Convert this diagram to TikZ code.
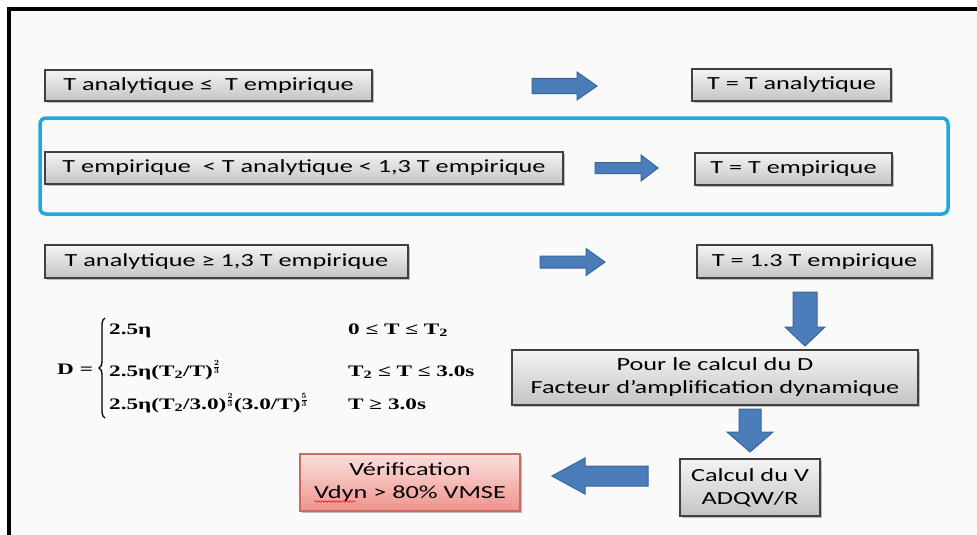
\documentclass[tikz,border=0pt]{standalone}
\usepackage{fontspec}
\setmainfont{Carlito}[FakeStretch=1.42]
\newfontfamily\tnr{Liberation Serif}[FakeStretch=1.45]
\usetikzlibrary{calc,shadows,decorations.pathmorphing,decorations.pathreplacing}
\definecolor{boxedge}{HTML}{404040}
\definecolor{boxtop}{HTML}{F4F4F4}
\definecolor{boxbot}{HTML}{C4C4C4}
\definecolor{arrowblue}{HTML}{4A7DBA}
\definecolor{arrowedge}{HTML}{3A659A}
\definecolor{framecyan}{HTML}{1FA8E0}
\definecolor{pinktop}{HTML}{FBE0DD}
\definecolor{pinkbot}{HTML}{F0938C}
\definecolor{pinkedge}{HTML}{C86A66}
\definecolor{bgcol}{HTML}{FAFAFA}
\tikzset{
  graybox/.style={draw=boxedge, line width=1.2pt, top color=boxtop, bottom color=boxbot,
    inner sep=0pt, font=\fontsize{18.5}{23}\selectfont, align=center,
    drop shadow={shadow xshift=1.5pt, shadow yshift=-1.5pt, opacity=0.25, fill=black}},
  pinkbox/.style={graybox, draw=pinkedge, top color=pinktop, bottom color=pinkbot},
  barrow/.style={fill=arrowblue, draw=arrowedge, line width=1pt, line join=miter},
  ftext/.style={font=\tnr\bfseries\boldmath\fontsize{16}{19}\selectfont, inner sep=0pt, anchor=base west},
  hlframe/.style={draw=framecyan, line width=3.5pt, rounded corners=6pt, inner sep=0pt},
  bracestyle/.style={draw=black, line width=1.3pt, decorate, decoration={brace, amplitude=6pt}},
  spellwave/.style={draw=red, line width=0.6pt, decorate, decoration={snake, amplitude=0.8pt, segment length=3.5pt}},
}
% #1 tail, #2 tip, #3 shaft half width, #4 head half width, #5 head length
\newcommand\blockarrow[5]{%
  \coordinate (bahb) at ($(#2)!#5!(#1)$);
  \filldraw[barrow] ($(#1)!#3!90:(#2)$) -- ($(bahb)!#3!90:(#2)$) -- ($(bahb)!#4!90:(#2)$)
    -- (#2) -- ($(bahb)!#4!-90:(#2)$) -- ($(bahb)!#3!-90:(#2)$) -- ($(#1)!#3!-90:(#2)$) -- cycle;
}
\begin{document}
\begin{tikzpicture}[x=1pt,y=1pt]
\useasboundingbox (0,0) rectangle (977,-535);
\fill[white] (0,0) rectangle (977,-535);
\fill[bgcol] (9,-9) rectangle (977,-535);
\draw[black, line width=3.5pt] (9,-535) -- (9,-9) -- (977,-9);

% highlight frame
\node[hlframe, minimum width=908pt, minimum height=96pt] (hl) at (494,-166) {};

% row 1
\node[graybox, minimum width=327pt, minimum height=31pt] (b1) at (208.5,-85.5) {T analytique ≤~ T empirique};
\node[graybox, minimum width=199pt, minimum height=32pt] (b2) at (791.5,-85) {T = T analytique};
% row 2
\node[graybox, minimum width=518pt, minimum height=32pt] (b3) at (304,-168) {T empirique~ < T analytique < 1,3 T empirique};
\node[graybox, minimum width=197pt, minimum height=32pt] (b4) at (793.5,-169) {T = T empirique};
% row 3
\node[graybox, minimum width=363pt, minimum height=33pt] (b5) at (226.5,-261.5) {T analytique ≥ 1,3 T empirique};
\node[graybox, minimum width=235pt, minimum height=33pt] (b6) at (814.5,-261.5) {T = 1.3 T empirique};
% lower part
\node[graybox, minimum width=406pt, minimum height=55pt] (b7) at (715,-377.5) {Pour le calcul du D\\Facteur d’amplification dynamique};
\node[graybox, minimum width=140pt, minimum height=57pt] (b8) at (750,-487.5) {Calcul du V\\ADQW/R};
\node[pinkbox, minimum width=220pt, minimum height=57pt] (b9) at (410,-482.5) {Vérification\\Vdyn > 80\% VMSE};
\coordinate (w1) at ($(b9.center)+(-96,-19)$);
\coordinate (w2) at ($(b9.center)+(-55,-19)$);
\draw[spellwave] (w1) -- (w2);

% block arrows
\coordinate (a1t) at (532,-86);  \coordinate (a1h) at (597,-86);
\coordinate (a2t) at (595,-168); \coordinate (a2h) at (658,-168);
\coordinate (a3t) at (540,-262); \coordinate (a3h) at (605,-262);
\coordinate (d1t) at (805,-292); \coordinate (d1h) at (805,-346);
\coordinate (d2t) at (750,-409); \coordinate (d2h) at (750,-452);
\coordinate (l1t) at (648,-476); \coordinate (l1h) at (552,-476);
\blockarrow{a1t}{a1h}{7.5pt}{14pt}{20pt}
\blockarrow{a2t}{a2h}{5.5pt}{13pt}{17pt}
\blockarrow{a3t}{a3h}{6pt}{13.5pt}{19pt}
\blockarrow{d1t}{d1h}{12pt}{20pt}{19pt}
\blockarrow{d2t}{d2h}{11pt}{23pt}{20pt}
\blockarrow{l1t}{l1h}{10pt}{18pt}{33pt}

% formula
\node[ftext] (D) at (57,-374) {D =};
\coordinate (brb) at (105,-418);
\coordinate (brt) at (105,-318);
\draw[bracestyle] (brb) -- (brt);
\node[ftext] (r1a) at (109,-334) {2.5η};
\node[ftext] (r2a) at (109,-376) {2.5η(T\textsubscript{2}/T)$^{\frac{2}{3}}$};
\node[ftext] (r3a) at (109,-409) {2.5η(T\textsubscript{2}/3.0)$^{\frac{2}{3}}$(3.0/T)$^{\frac{5}{3}}$};
\node[ftext] (r1b) at (348,-334) {0 ≤ T ≤ T\textsubscript{2}};
\node[ftext] (r2b) at (348,-376) {T\textsubscript{2} ≤ T ≤ 3.0s};
\node[ftext] (r3b) at (348,-409) {T ≥ 3.0s};
\end{tikzpicture}
\end{document}
